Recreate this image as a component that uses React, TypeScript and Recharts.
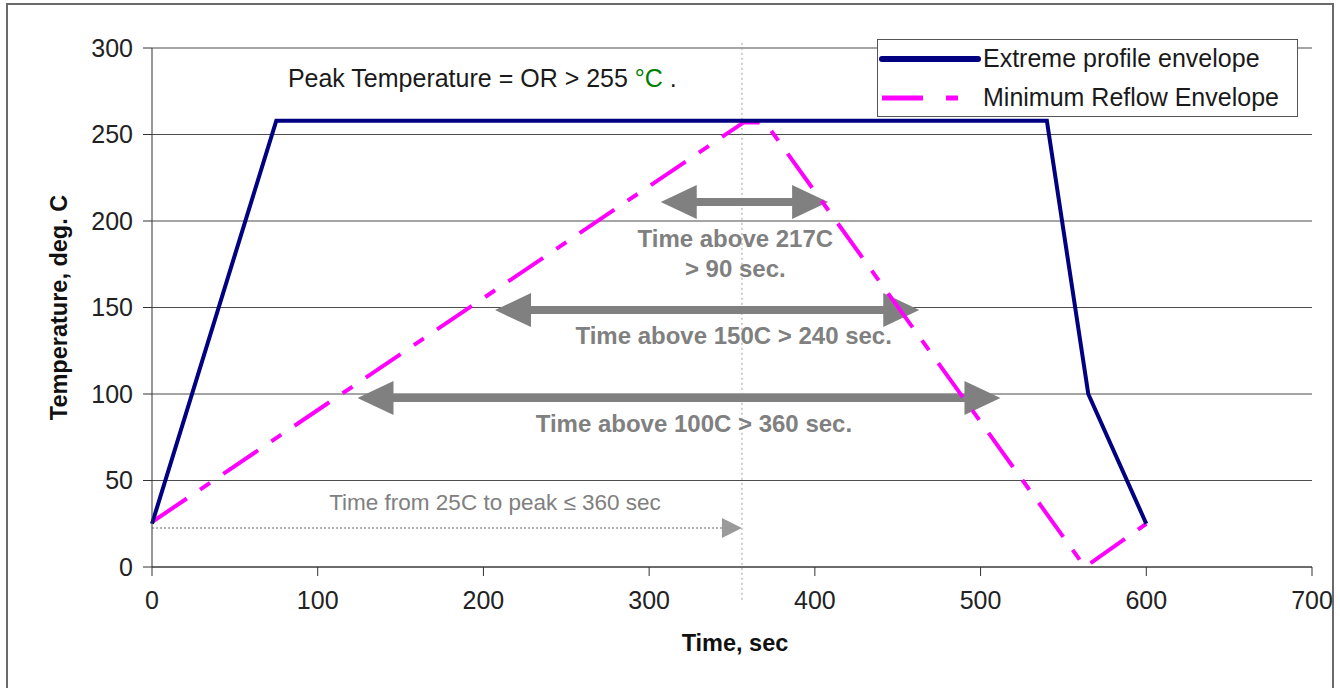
import React from 'react'
import { LineChart, Line, XAxis, YAxis, CartesianGrid, ReferenceLine, ReferenceDot, Legend } from 'recharts'

const FONT = '"Liberation Sans", Arial, sans-serif'

// Extreme profile envelope (solid navy)
const extremeTime = [0, 75, 540, 565, 600]
const extremeTemp = [25, 258, 258, 100, 25]

// Minimum reflow envelope (dashed magenta)
const reflowTime = [0, 357, 370, 563, 600]
const reflowTemp = [26, 257, 257, 0, 25]

const timeTicks = [0, 100, 200, 300, 400, 500, 600, 700]
const tempTicks = [0, 50, 100, 150, 200, 250, 300]

// "time above" double arrows
const arrowFrom = [307, 207, 124]
const arrowTo = [408, 463, 512]
const arrowTemp = [211, 148.5, 97.7]

// text notes
const noteText = ['Time above 217C', '> 90 sec.', 'Time above 150C > 240 sec.', 'Time above 100C > 360 sec.', 'Time from 25C to peak \u2264 360 sec']
const noteTime = [352, 352, 351, 327, 207]
const noteTemp = [190, 172.8, 134, 82.7, 37]
const noteBold = [true, true, true, true, false]

const peakTime = 82
const peakTemp = 282.7
const rampEnd = 356
const rampTemp = 22.5

const extremeData = extremeTime.map((t, i) => ({ t, temp: extremeTemp[i] }))
const reflowData = reflowTime.map((t, i) => ({ t, temp: reflowTemp[i] }))

const ARROW = '#808080'
const NAVY = '#000080'
const MAGENTA = '#ff00ff'

function DoubleArrow(props: any) {
  const { x1, y1, x2 } = props
  const h = 36, w = 17, s = 4
  const y = y1
  const d = `M${x1},${y} L${x1 + h},${y - w} L${x1 + h},${y - s} L${x2 - h},${y - s} L${x2 - h},${y - w} L${x2},${y} L${x2 - h},${y + w} L${x2 - h},${y + s} L${x1 + h},${y + s} L${x1 + h},${y + w} Z`
  return <path d={d} fill={ARROW} />
}

function DottedArrow(props: any) {
  const { x1, y1, x2 } = props
  const h = 20, w = 10
  return (
    <g>
      <line x1={x1} y1={y1} x2={x2 - h} y2={y1} stroke="#9a9a9a" strokeWidth={1.5} strokeDasharray="2 2" />
      <path d={`M${x2 - h},${y1 - w} L${x2},${y1} L${x2 - h},${y1 + w} Z`} fill="#9a9a9a" />
    </g>
  )
}

const noteShape = (i: number) => (p: any) => (
  <text
    x={p.cx}
    y={p.cy}
    textAnchor="middle"
    dominantBaseline="central"
    fontFamily={FONT}
    fontSize={noteBold[i] ? 24 : 22.5}
    fontWeight={noteBold[i] ? 'bold' : 'normal'}
    fill={ARROW}
  >
    {noteText[i]}
  </text>
)

const peakShape = (p: any) => (
  <text x={p.cx} y={p.cy} dominantBaseline="central" fontFamily={FONT} fontSize={25} fill="#1a1a1a">
    Peak Temperature = OR &gt; 255 <tspan fill="#008000">°C</tspan> .
  </text>
)

function renderLegend() {
  return (
    <div style={{
      width: 419,
      height: 76,
      border: '1px solid #555',
      backgroundColor: '#ffffff',
      fontFamily: FONT,
      fontSize: 25,
      color: '#1a1a1a',
      position: 'relative'
    }}>
      <svg width={110} height={76} style={{ position: 'absolute', left: 0, top: 0 }}>
        <line x1={4} y1={19} x2={100} y2={19} stroke={NAVY} strokeWidth={6} strokeLinecap="round" />
        <line x1={4} y1={58} x2={80} y2={58} stroke={MAGENTA} strokeWidth={5} strokeDasharray="41 23 12 40" />
      </svg>
      <div style={{ position: 'absolute', left: 105, top: 4, lineHeight: '28px' }}>Extreme profile envelope</div>
      <div style={{ position: 'absolute', left: 105, top: 43, lineHeight: '28px' }}>Minimum Reflow Envelope</div>
    </div>
  )
}

export default function App() {
  return (
    <div style={{ position: 'absolute', left: 0, top: 0, width: 1340, height: 688, overflow: 'hidden', background: '#fff' }}>
      {/* outer frame */}
      <div style={{
        position: 'absolute', left: 6, top: 3, width: 1328, height: 700,
        border: '2px solid #6a6a6a', boxSizing: 'border-box'
      }} />
      <div style={{ position: 'absolute', left: 0, top: 0 }}>
        <LineChart
          width={1340}
          height={688}
          margin={{ top: 48, right: 28, left: 0, bottom: 0 }}
          style={{ fontFamily: FONT }}
        >
          <CartesianGrid vertical={false} stroke="#4d4d4d" strokeWidth={1.2} />
          <XAxis
            type="number"
            dataKey="t"
            domain={[0, 700]}
            ticks={timeTicks}
            height={121}
            tickSize={9}
            tickMargin={15}
            stroke="#333"
            tick={{ fill: '#222', fontSize: 25, fontFamily: FONT }}
            label={{
              content: (p: any) => {
                const vb = p.viewBox
                return (
                  <text x={vb.x + vb.width / 2 + 3} y={vb.y + 76} textAnchor="middle" dominantBaseline="central"
                    fontFamily={FONT} fontSize={23.5} fontWeight="bold" fill="#111">
                    Time, sec
                  </text>
                )
              }
            }}
          />
          <YAxis
            type="number"
            domain={[0, 300]}
            ticks={tempTicks}
            width={152}
            tickSize={9}
            tickMargin={10}
            stroke="#333"
            tick={{ fill: '#222', fontSize: 25, fontFamily: FONT }}
            label={{
              content: (p: any) => {
                const vb = p.viewBox
                const cy = vb.y + vb.height / 2
                return (
                  <text x={59} y={cy} textAnchor="middle" dominantBaseline="central"
                    transform={`rotate(-90, 59, ${cy})`}
                    fontFamily={FONT} fontSize={23.5} fontWeight="bold" fill="#111">
                    Temperature, deg. C
                  </text>
                )
              }
            }}
          />

          <ReferenceLine
            segment={[{ x: rampEnd, y: -19 }, { x: rampEnd, y: 303.5 }]}
            ifOverflow="visible"
            stroke="#a0a0a0"
            strokeDasharray="2 3"
          />

          {arrowFrom.map((from, i) => (
            <ReferenceLine
              key={`arrow-${i}`}
              segment={[{ x: from, y: arrowTemp[i] }, { x: arrowTo[i], y: arrowTemp[i] }]}
              shape={(p: any) => <DoubleArrow {...p} />}
            />
          ))}

          <ReferenceLine
            segment={[{ x: 0, y: rampTemp }, { x: rampEnd, y: rampTemp }]}
            shape={(p: any) => <DottedArrow {...p} />}
          />

          <Line
            data={reflowData}
            dataKey="temp"
            name="Minimum Reflow Envelope"
            type="linear"
            stroke={MAGENTA}
            strokeWidth={4}
            strokeDasharray="42 16 12 16"
            dot={false}
            isAnimationActive={false}
          />
          <Line
            data={extremeData}
            dataKey="temp"
            name="Extreme profile envelope"
            type="linear"
            stroke={NAVY}
            strokeWidth={4}
            dot={false}
            isAnimationActive={false}
          />

          {noteText.map((_, i) => (
            <ReferenceDot key={`note-${i}`} x={noteTime[i]} y={noteTemp[i]} r={0} shape={noteShape(i)} />
          ))}
          <ReferenceDot x={peakTime} y={peakTemp} r={0} shape={peakShape} />

          <Legend
            layout="horizontal"
            verticalAlign="middle"
            align="center"
            content={renderLegend}
            wrapperStyle={{ position: 'absolute', left: 877, top: 39, width: 421, height: 78 }}
          />
        </LineChart>
      </div>
    </div>
  )
}
